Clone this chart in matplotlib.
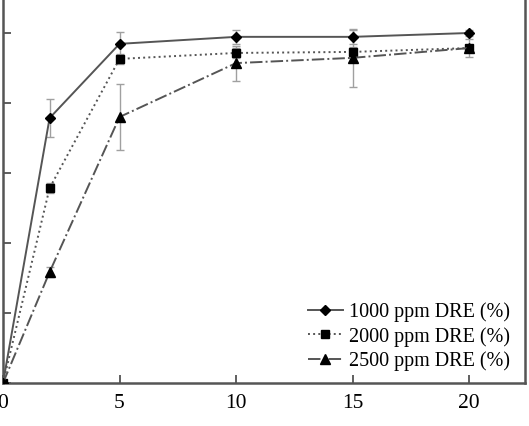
import matplotlib
matplotlib.use("Agg")
import matplotlib.pyplot as plt

time = [0, 2, 5, 10, 15, 20]
dre_1000 = [0, 75.7, 96.9, 98.9, 98.9, 100.0]
err_1000 = [0, 5.5, 3.4, 2.0, 2.0, 0.8]
dre_2000 = [0, 55.7, 92.6, 94.3, 94.6, 95.7]
err_2000 = [0, 1.5, 1.5, 1.5, 1.5, 1.0]
dre_2500 = [0, 31.7, 76.0, 91.4, 92.9, 95.7]
err_2500 = [0, 1.5, 9.3, 5.0, 8.3, 2.6]
labels = ["1000 ppm DRE (%)", "2000 ppm DRE (%)", "2500 ppm DRE (%)"]
xticks = [0, 5, 10, 15, 20]
yticks = [0, 20, 40, 60, 80, 100]

plt.rcParams['font.family'] = ['Liberation Serif', 'DejaVu Serif']

fig = plt.figure(figsize=(5.29, 4.26), dpi=100)
ax = fig.add_axes([3/529, 43/426, (525-3)/529, 385/426])

line_col = '#555555'
err_col = '#a0a0a0'
series = [
    (dre_1000, err_1000, '-', 'D', 5.5),
    (dre_2000, err_2000, ':', 's', 5.5),
    (dre_2500, err_2500, '-.', '^', 6.5),
]
handles = []
for (y, e, ls, mk, ms), lab in zip(series, labels):
    ax.errorbar(time, y, yerr=e, fmt='none', ecolor=err_col, elinewidth=1.0,
                capsize=3, capthick=1.0, zorder=2)
    h, = ax.plot(time, y, linestyle=ls, color=line_col, linewidth=1.4,
                 marker=mk, markersize=ms, markerfacecolor='black',
                 markeredgecolor='black', label=lab, zorder=3)
    handles.append(h)

ax.set_xlim(0, 22.4)
ax.set_ylim(0, 110)
ax.set_xticks(xticks)
ax.set_yticks(yticks)
ax.set_yticklabels([])
ax.tick_params(direction='in', length=6, width=1.2, colors='#444444',
               labelcolor='black', labelsize=15.5, pad=8)
for s in ['left', 'right', 'bottom']:
    ax.spines[s].set_linewidth(1.8)
    ax.spines[s].set_color('#555555')
ax.spines['top'].set_visible(False)

ax.legend(handles=handles, loc='lower right', frameon=False, fontsize=14.5,
          handlelength=1.75, handletextpad=0.3, labelspacing=0.22,
          borderaxespad=0, bbox_to_anchor=(0.987, 0.011))

fig.savefig("out.png", dpi=100)
